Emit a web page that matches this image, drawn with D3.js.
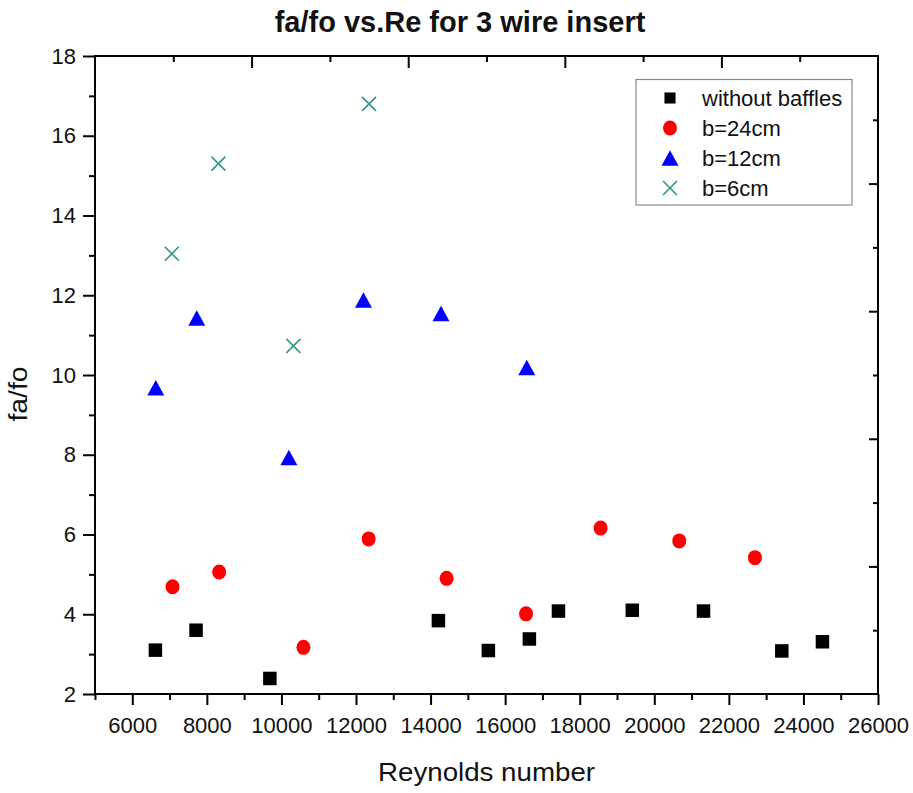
<!DOCTYPE html>
<html>
<head>
<meta charset="utf-8">
<script src="https://cdn.jsdelivr.net/npm/d3@7"></script>
<style>
  html, body { margin: 0; padding: 0; background: #fff; }
  svg { display: block; font-family: "Liberation Sans", Arial, sans-serif; }
</style>
</head>
<body>
<svg id="chart" width="913" height="793"></svg>
<script>
// Reynolds number (x) and friction ratio fa/fo (y) for each baffle spacing
const reNone = [6620, 7710, 9690, 14210, 15550, 16650, 17430, 19410, 21320, 23420, 24510];
const faNone = [3.10, 3.60, 2.39, 3.84, 3.09, 3.38, 4.08, 4.10, 4.08, 3.08, 3.31];

const reB24 = [7080, 8330, 10590, 12340, 14430, 16560, 18560, 20670, 22700];
const faB24 = [4.69, 5.06, 3.17, 5.89, 4.90, 4.01, 6.16, 5.84, 5.42];

const reB12 = [6630, 7730, 10200, 12200, 14280, 16580];
const faB12 = [9.68, 11.43, 7.93, 11.88, 11.54, 10.19];

const reB6 = [7060, 8310, 10320, 12350];
const faB6 = [13.04, 15.30, 10.73, 16.80];

const seriesNames = ["without baffles", "b=24cm", "b=12cm", "b=6cm"];

const xTicks = [6000, 8000, 10000, 12000, 14000, 16000, 18000, 20000, 22000, 24000, 26000];
const yTicks = [2, 4, 6, 8, 10, 12, 14, 16, 18];

const titleText = "fa/fo vs.Re for 3 wire insert";
const xTitle = "Reynolds number";
const yTitle = "fa/fo";

// ---- layout ----
const svg = d3.select("#chart");
const plotL = 95, plotR = 878, plotT = 56, plotB = 694;

const x = d3.scaleLinear().domain([5000, 26000]).range([plotL, plotR]);
const y = d3.scaleLinear().domain([2, 18]).range([plotB, plotT]);

const series = [
  { name: seriesNames[0], xs: reNone, ys: faNone, shape: "square",   color: "#000000" },
  { name: seriesNames[1], xs: reB24,  ys: faB24,  shape: "circle",   color: "#ff0000" },
  { name: seriesNames[2], xs: reB12,  ys: faB12,  shape: "triangle", color: "#0000ff" },
  { name: seriesNames[3], xs: reB6,   ys: faB6,   shape: "cross",    color: "#2f9488" }
];

// marker drawing, centred on (cx, cy)
function drawMarker(g, shape, color, cx, cy, s) {
  s = s || 1;
  if (shape === "square") {
    const w = 13.5 * s;
    g.append("rect").attr("x", cx - w / 2).attr("y", cy - w / 2)
      .attr("width", w).attr("height", w).attr("fill", color);
  } else if (shape === "circle") {
    g.append("ellipse").attr("cx", cx).attr("cy", cy)
      .attr("rx", 7 * s).attr("ry", 7.5 * s).attr("fill", color);
  } else if (shape === "triangle") {
    const w = 17 * s, h = 15.5 * s;
    g.append("path")
      .attr("d", `M${cx},${cy - h / 2}L${cx + w / 2},${cy + h / 2}L${cx - w / 2},${cy + h / 2}Z`)
      .attr("fill", color);
  } else if (shape === "cross") {
    const r = 7 * s;
    g.append("path")
      .attr("d", `M${cx - r},${cy - r}L${cx + r},${cy + r}M${cx - r},${cy + r}L${cx + r},${cy - r}`)
      .attr("stroke", color).attr("stroke-width", 1.6).attr("fill", "none");
  }
}

// ---- axes ----
const axisColor = "#000";
const minorX = d3.range(5000, 26001, 1000).filter(v => v % 2000 !== 0);
const minorY = d3.range(3, 18, 2);

// bottom axis
svg.append("g").attr("transform", `translate(0,${plotB})`)
  .call(d3.axisBottom(x).tickValues(xTicks).tickSize(11).tickPadding(12).tickFormat(d3.format("d")));
svg.append("g").attr("transform", `translate(0,${plotB})`)
  .call(d3.axisBottom(x).tickValues(minorX).tickSize(6).tickFormat(""));

// left axis
svg.append("g").attr("transform", `translate(${plotL},0)`)
  .call(d3.axisLeft(y).tickValues(yTicks).tickSize(12).tickPadding(7).tickFormat(d3.format("d")));
svg.append("g").attr("transform", `translate(${plotL},0)`)
  .call(d3.axisLeft(y).tickValues(minorY).tickSize(6).tickFormat(""));

// opposite axes: evenly divided frame ticks pointing inward
const xTop = d3.scaleLinear().domain([0, 10]).range([plotL, plotR]);
const yRight = d3.scaleLinear().domain([0, 10]).range([plotB, plotT]);
svg.append("g").attr("transform", `translate(0,${plotT})`)
  .call(d3.axisBottom(xTop).tickValues([2, 4, 6, 8]).tickSize(12).tickFormat(""));
svg.append("g").attr("transform", `translate(0,${plotT})`)
  .call(d3.axisBottom(xTop).tickValues([1, 3, 5, 7, 9]).tickSize(6).tickFormat(""));
svg.append("g").attr("transform", `translate(${plotR},0)`)
  .call(d3.axisLeft(yRight).tickValues([2, 4, 6, 8]).tickSize(9).tickFormat(""));
svg.append("g").attr("transform", `translate(${plotR},0)`)
  .call(d3.axisLeft(yRight).tickValues([1, 3, 5, 7, 9]).tickSize(5).tickFormat(""));

svg.selectAll(".domain").remove();
svg.selectAll(".tick line").attr("stroke", axisColor).attr("stroke-width", 2);
svg.selectAll(".tick text").attr("fill", "#111").style("font-size", "22px")
  .style("font-family", "'Liberation Sans', Arial, sans-serif");

// frame
svg.append("rect").attr("x", plotL).attr("y", plotT)
  .attr("width", plotR - plotL).attr("height", plotB - plotT)
  .attr("fill", "none").attr("stroke", axisColor).attr("stroke-width", 2);

// ---- data points ----
const plot = svg.append("g");
series.forEach(s => {
  s.xs.forEach((v, i) => drawMarker(plot, s.shape, s.color, x(v), y(s.ys[i])));
});

// ---- legend ----
const lg = svg.append("g");
lg.append("rect").attr("x", 636).attr("y", 79.5).attr("width", 216).attr("height", 125.5)
  .attr("fill", "#fff").attr("stroke", "#8a8a8a").attr("stroke-width", 1.2);
series.forEach((s, i) => {
  const cy = 98 + i * 30;
  drawMarker(lg, s.shape, s.color, 670, cy, s.shape === "square" ? 0.82 : 1);
  lg.append("text").attr("x", 702).attr("y", cy).attr("dy", "0.35em")
    .style("font-size", "22px").attr("fill", "#111").text(s.name);
});

// ---- titles ----
svg.append("text").attr("x", 460).attr("y", 32).attr("text-anchor", "middle")
  .style("font-size", "29px").style("font-weight", "bold").attr("fill", "#111")
  .text(titleText);

svg.append("text").attr("x", 486.5).attr("y", 781).attr("text-anchor", "middle")
  .style("font-size", "25px").attr("fill", "#111")
  .attr("textLength", 217).attr("lengthAdjust", "spacingAndGlyphs")
  .text(xTitle);

svg.append("text").attr("transform", "translate(27,394) rotate(-90)")
  .attr("text-anchor", "middle")
  .style("font-size", "25px").attr("fill", "#111")
  .attr("textLength", 55).attr("lengthAdjust", "spacingAndGlyphs")
  .text(yTitle);
</script>
</body>
</html>
